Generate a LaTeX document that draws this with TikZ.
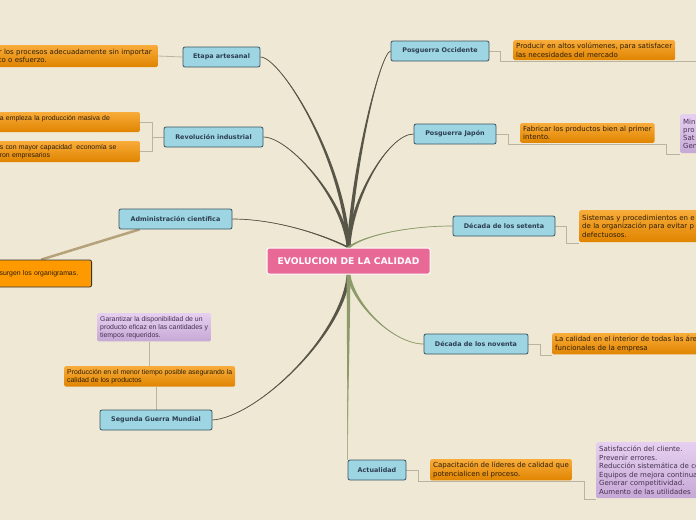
\documentclass[tikz,border=0pt]{standalone}
\usepackage{fontspec}
\setmainfont{DejaVu Sans}
\newfontfamily\arialfont{Liberation Sans}
\usepackage{xcolor}
\definecolor{mmbeige}{RGB}{239,232,212}
\definecolor{rootpink}{RGB}{232,104,150}
\definecolor{topicfill}{RGB}{157,213,227}
\definecolor{topicedge}{RGB}{58,84,96}
\definecolor{topictext}{RGB}{44,62,80}
\definecolor{leaftop}{RGB}{248,172,58}
\definecolor{leafbot}{RGB}{224,132,0}
\definecolor{leaftext}{RGB}{45,30,10}
\definecolor{purptop}{RGB}{230,208,240}
\definecolor{purpbot}{RGB}{198,168,214}
\definecolor{purptext}{RGB}{70,50,80}
\definecolor{adminorange}{RGB}{255,153,0}
\definecolor{brdark}{RGB}{88,86,72}
\definecolor{brgreen}{RGB}{140,155,105}
\definecolor{linkgrey}{RGB}{185,180,160}
\definecolor{admintan}{RGB}{182,162,122}
\usetikzlibrary{calc, backgrounds}

\newcommand{\leaffont}{\fontsize{7}{8.2}\selectfont}
\newcommand{\leafarial}{\arialfont\fontsize{6.9}{7.9}\selectfont}
% tapered branch: colour, start anchor, end anchor, start control, end control
\newcommand{\branch}[5]{%
  \fill[#1] ($(#2)+(-1.8,0)$) .. controls +#4 and +#5 .. (#3)
    .. controls +#5 and +#4 .. ($(#2)+(1.8,0)$) -- cycle;
  \draw[#1, line width=0.7pt] (#2) .. controls +#4 and +#5 .. (#3);
}

\tikzset{
  root/.style={draw=white, line width=1pt, fill=rootpink, rounded corners=2pt,
    minimum width=163pt, minimum height=26pt, text=white,
    font=\bfseries\fontsize{9.2}{10}\selectfont},
  topic/.style={draw=topicedge, line width=0.8pt, fill=topicfill, rounded corners=2pt,
    minimum height=20pt, inner xsep=2pt, text=topictext,
    font=\bfseries\fontsize{6.4}{7}\selectfont},
  leaf/.style={top color=leaftop, bottom color=leafbot, rounded corners=1.5pt,
    inner sep=3pt, align=left, text=leaftext, font=\leaffont},
  purpleleaf/.style={leaf, top color=purptop, bottom color=purpbot, text=purptext},
  adminbox/.style={draw=black!80, line width=0.8pt, fill=adminorange, rounded corners=2pt,
    inner sep=3pt, align=left, text=leaftext, font=\leafarial},
  link/.style={draw=linkgrey, line width=0.8pt},
  adminlink/.style={draw=admintan, line width=2.5pt},
}

\begin{document}
\begin{tikzpicture}[x=1pt, y=-1pt]
  \useasboundingbox (0,0) rectangle (696,520);
  \clip (0,0) rectangle (696,520);

  % Central topic
  \node[root] (evol) at (348.5,261) {EVOLUCION DE LA CALIDAD};

  % Main topics
  \node[topic, minimum width=77pt] (artesanal) at (221.5,57) {Etapa artesanal};
  \node[topic, minimum width=99pt] (revind) at (213.5,137) {Revolución industrial};
  \node[topic, minimum width=113pt] (admin) at (175.5,219) {Administración científica};
  \node[topic, minimum width=112pt] (sgm) at (156,420) {Segunda Guerra Mundial};
  \node[topic, minimum width=98pt] (occidente) at (440,51) {Posguerra Occidente};
  \node[topic, minimum width=82pt] (japon) at (455,134) {Posguerra Japón};
  \node[topic, minimum width=102pt] (setenta) at (504,226) {Década de los setenta};
  \node[topic, minimum width=104pt] (noventa) at (476,344) {Década de los noventa};
  \node[topic, minimum width=58pt] (actual) at (377,470) {Actualidad};

  % Leaves, left side
  \node[leaf, anchor=east, text width=156pt, minimum height=22pt] (artleaf) at (158,56)
    {r los procesos adecuadamente sin importar\\to o esfuerzo.};
  \node[leaf, font=\leafarial, anchor=east, text width=137pt, minimum height=20pt] (revleafa) at (140,122)
    {a empleza la producción masiva de\\\mbox{}};
  \node[leaf, font=\leafarial, anchor=east, text width=137pt, minimum height=21pt] (revleafb) at (140,151.5)
    {s con mayor capacidad\ \ economía se\\ron empresarios};
  \node[adminbox, anchor=east, text width=89pt, minimum height=27pt] (adminleaf) at (92,273.5)
    {surgen los organigramas.};
  \node[purpleleaf, font=\leafarial, anchor=north west] (sgmpurple) at (97,313)
    {Garantizar la disponibilidad de un\\producto eficaz en las cantidades y\\tiempos requeridos.};
  \node[leaf, font=\leafarial, anchor=north west] (sgmorange) at (64,366)
    {Producción en el menor tiempo posible asegurando la\\calidad de los productos};

  % Leaves, right side
  \node[leaf, anchor=north west] (occleaf) at (513,40)
    {Producir en altos volúmenes, para satisfacer\\las necesidades del mercado};
  \node[leaf, anchor=north west] (japleaf) at (520,123)
    {Fabricar los productos bien al primer\\intento.};
  \node[purpleleaf, anchor=north west, text width=60pt, minimum height=39pt] (jappurple) at (680,114)
    {Min\\pro\\Sat\\Gen};
  \node[leaf, anchor=north west, text width=200pt, minimum height=32pt] (setleaf) at (579,210)
    {Sistemas y procedimientos en e\\de la organización para evitar p\\defectuosos.};
  \node[leaf, anchor=north west, text width=200pt] (novleaf) at (552,333)
    {La calidad en el interior de todas las áre\\funcionales de la empresa};
  \node[leaf, anchor=north west] (actleaf) at (430,459)
    {Capacitación de líderes de calidad que\\potencialicen el proceso.};
  \node[purpleleaf, font=\fontsize{7}{8.6}\selectfont, anchor=north west, text width=200pt, minimum height=56pt] (actpurple) at (596,442)
    {Satisfacción del cliente.\\Prevenir errores.\\Reducción sistemática de co\\Equipos de mejora continua\\Generar competitividad.\\Aumento de las utilidades};
  \coordinate (occend) at ($(occleaf.south west)+(190,1)$);

  \begin{pgfonlayer}{background}
    \fill[mmbeige] (0,0) rectangle (696,520);
    \clip (0,0) rectangle (696,520);
    % Branches
    \branch{brdark}{evol.north}{artesanal.east}{(-5,-90)}{(20,0)}
    \branch{brdark}{evol.north}{revind.east}{(-5,-50)}{(25,0)}
    \branch{brdark}{evol.north}{admin.east}{(-30,-15)}{(40,0)}
    \branch{brdark}{evol.north}{occidente.west}{(6,-90)}{(-10,2)}
    \branch{brdark}{evol.north}{japon.west}{(3,-50)}{(-25,0)}
    \branch{brdark}{evol.south}{sgm.east}{(-5,60)}{(45,-3)}
    \branch{brgreen}{evol.north}{setenta.west}{(15,-12)}{(-45,0)}
    \branch{brgreen}{evol.south}{noventa.west}{(5,30)}{(-30,0)}
    \branch{brgreen}{evol.south}{actual.north west}{(0,60)}{(0,-60)}
    % Links to leaves
    \draw[link] (artesanal.west) -- (artleaf.east);
    \draw[link] (revind.west) -- ++(-11,0) coordinate (revfork) |- (revleafa.east);
    \draw[link] (revfork) |- (revleafb.east);
    \draw[adminlink] ([xshift=21pt]admin.south west) -- ([xshift=45pt]adminleaf.north west);
    \draw[link] (sgm.north) -- (sgm.north |- sgmorange.south);
    \draw[link] (sgmorange.north) -- (sgmorange.north |- sgmpurple.south);
    \draw[link] (occidente.east) -- ++(11,0) |- ([yshift=-1pt]occleaf.south west) -- (occend);
    \draw[link] (japon.east) -- ++(12,0) |- ([yshift=-1pt]japleaf.south west);
    \draw[link] ([yshift=-1pt]japleaf.south west) -- ([xshift=12pt,yshift=-1pt]japleaf.south east)
      |- ([yshift=-1pt]jappurple.south west);
    \draw[link] (setenta.east) -- ++(11,0) |- ([yshift=-1pt]setleaf.south west);
    \draw[link] (noventa.east) -- ++(12,0) |- ([yshift=-1pt]novleaf.south west);
    \draw[link] (actual.east) -- ++(12,0) |- ([yshift=-1pt]actleaf.south west);
    \draw[link] ([yshift=-1pt]actleaf.south west) -- ([xshift=12pt,yshift=-1pt]actleaf.south east)
      |- ([yshift=-1pt]actpurple.south west);
  \end{pgfonlayer}
\end{tikzpicture}
\end{document}
